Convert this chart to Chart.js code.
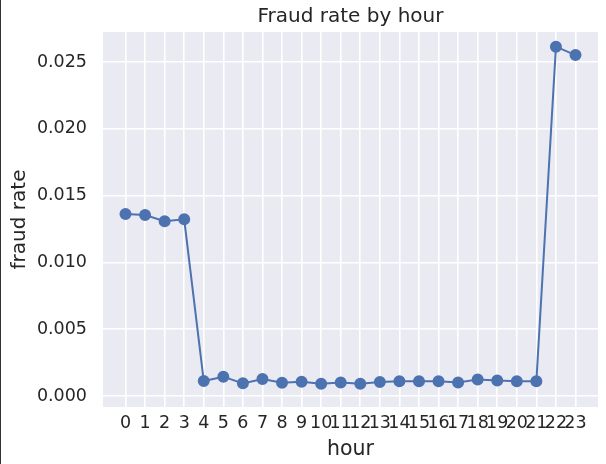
<!DOCTYPE html>
<html>
<head>
<meta charset="utf-8">
<script src="https://cdn.jsdelivr.net/npm/chart.js@4/dist/chart.umd.min.js"></script>
<style>
    html, body { margin: 0; padding: 0; background: #fff; }
    #wrap { width: 605px; height: 464px; border-left: 1px solid #333; }
</style>
</head>
<body>
<div id="wrap"><canvas id="fraud-chart" width="605" height="464"></canvas></div>
<script>
const hours = [0, 1, 2, 3, 4, 5, 6, 7, 8, 9, 10, 11, 12, 13, 14, 15, 16, 17, 18, 19, 20, 21, 22, 23]
const fraudRate = [0.01362, 0.01355, 0.01308, 0.01323, 0.00112, 0.00145, 0.00095, 0.00127,
    0.00100, 0.00107, 0.00092, 0.00102, 0.00092, 0.00105, 0.00110, 0.00110,
    0.00110, 0.00102, 0.00124, 0.00117, 0.00110, 0.00110, 0.02615, 0.02552]
const yTicks = [0, 0.005, 0.010, 0.015, 0.020, 0.025]

const textColor = '#262626'
const fontFamily = '"DejaVu Sans", sans-serif'

// seaborn darkgrid background
const bgPlugin = {
    id: 'bg',
    beforeDraw(chart) {
        const { ctx, chartArea: a } = chart
        ctx.save()
        ctx.fillStyle = '#EAEAF2'
        ctx.fillRect(a.left, a.top, a.right - a.left, a.bottom - a.top)
        ctx.restore()
    }
}

function main() {
    const canvas = document.querySelector('#fraud-chart')
    new Chart(canvas.getContext('2d'), {
        type: 'line',
        data: {
            datasets: [{
                label: 'fraud rate',
                data: hours.map((h, i) => ({ x: h, y: fraudRate[i] })),
                borderColor: '#4C72B0',
                backgroundColor: '#4C72B0',
                borderWidth: 2,
                pointRadius: 5,
                pointHoverRadius: 5,
                tension: 0
            }]
        },
        options: {
            responsive: false,
            animation: false,
            layout: { padding: { left: 0, right: 8, top: 0, bottom: 0 } },
            plugins: {
                legend: { display: false },
                tooltip: { enabled: false },
                title: {
                    display: true,
                    fullSize: false,
                    text: 'Fraud rate by hour',
                    color: textColor,
                    font: { family: fontFamily, size: 20, weight: 'normal' },
                    padding: { top: 5, bottom: 3 }
                }
            },
            scales: {
                x: {
                    type: 'linear',
                    min: -1.15,
                    max: 24.15,
                    afterBuildTicks: scale => { scale.ticks = hours.map(v => ({ value: v })) },
                    afterFit: scale => { scale.height = 57 },
                    grid: { color: '#ffffff', lineWidth: 1.6, drawTicks: false },
                    border: { display: false },
                    ticks: {
                        autoSkip: false,
                        maxRotation: 0,
                        padding: 6,
                        color: textColor,
                        font: { family: fontFamily, size: 17.5 },
                        callback: v => String(v)
                    },
                    title: {
                        display: true,
                        text: 'hour',
                        color: textColor,
                        font: { family: fontFamily, size: 20.5 },
                        padding: { top: 0, bottom: 2 }
                    }
                },
                y: {
                    min: -0.00082,
                    max: 0.02725,
                    afterBuildTicks: scale => { scale.ticks = yTicks.map(v => ({ value: v })) },
                    afterFit: scale => { scale.width = 102 },
                    grid: { color: '#ffffff', lineWidth: 1.6, drawTicks: false },
                    border: { display: false },
                    ticks: {
                        padding: 16,
                        color: textColor,
                        font: { family: fontFamily, size: 17.5 },
                        callback: v => v.toFixed(3)
                    },
                    title: {
                        display: true,
                        text: 'fraud rate',
                        color: textColor,
                        font: { family: fontFamily, size: 20 },
                        padding: { top: 7, bottom: 0 }
                    }
                }
            }
        },
        plugins: [bgPlugin]
    })
}

main()
</script>
</body>
</html>
